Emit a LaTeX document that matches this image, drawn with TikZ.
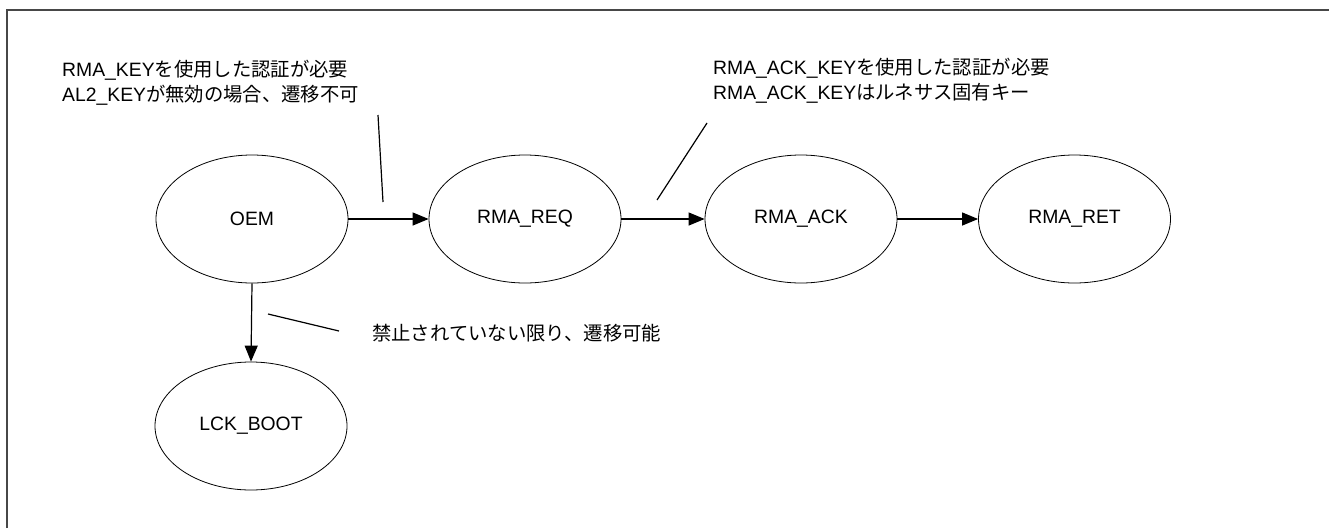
\documentclass[tikz,border=0pt]{standalone}
\usepackage{fontspec}
\setmainfont{Liberation Sans}
\newfontfamily\jp{Noto Sans CJK JP}
\usetikzlibrary{shapes.geometric,arrows.meta}
\begin{document}
\begin{tikzpicture}[x=1pt,y=-1pt,
  every node/.style={font=\fontsize{19.35}{25}\selectfont},
  state/.style={draw, ellipse, line width=0.8pt, minimum width=192pt, minimum height=128pt, inner sep=0pt},
  trans/.style={line width=1.2pt, -{Triangle[length=16pt,width=13pt]}},
  note/.style={anchor=west, align=left, inner sep=0pt},
  lead/.style={line width=1.2pt},
  frame/.style={line width=2pt, draw=black!72}
]
\useasboundingbox (0,0) rectangle (1329,528);
% frame (top and left edges)
\draw[frame] (7,528) -- (7,10) -- (1329,10);

% states
\node[state] (oem) at (252,219) {OEM};
\node[state] (req) at (525,219) {RMA\_REQ};
\node[state] (ack) at (801,219) {RMA\_ACK};
\node[state] (ret) at (1074.5,219) {RMA\_RET};
\node[state] (lck) at (251,426) {LCK\_BOOT};

% transitions
\draw[trans] (oem.east) -- (req.west);
\draw[trans] (req.east) -- (ack.west);
\draw[trans] (ack.east) -- (ret.west);
\draw[trans] (oem.south) -- (lck.north);

% notes
\node[note] (n1) at (62,82.5) {RMA\_KEY{\jp を使用した認証が必要}\\AL2\_KEY{\jp が無効の場合、遷移不可}};
\node[note] (n2) at (713,80.5) {RMA\_ACK\_KEY{\jp を使用した認証が必要}\\RMA\_ACK\_KEY{\jp はルネサス固有キー}};
\node[note] (n3) at (372,333) {\jp 禁止されていない限り、遷移可能};

% leader lines
\coordinate (l1a) at (378,115);
\coordinate (l1b) at (383,202);
\coordinate (l2a) at (707,123);
\coordinate (l2b) at (657,200);
\coordinate (l3a) at (268,314);
\coordinate (l3b) at (339,331);
\draw[lead] (l1a) -- (l1b);
\draw[lead] (l2a) -- (l2b);
\draw[lead] (l3a) -- (l3b);
\end{tikzpicture}
\end{document}
